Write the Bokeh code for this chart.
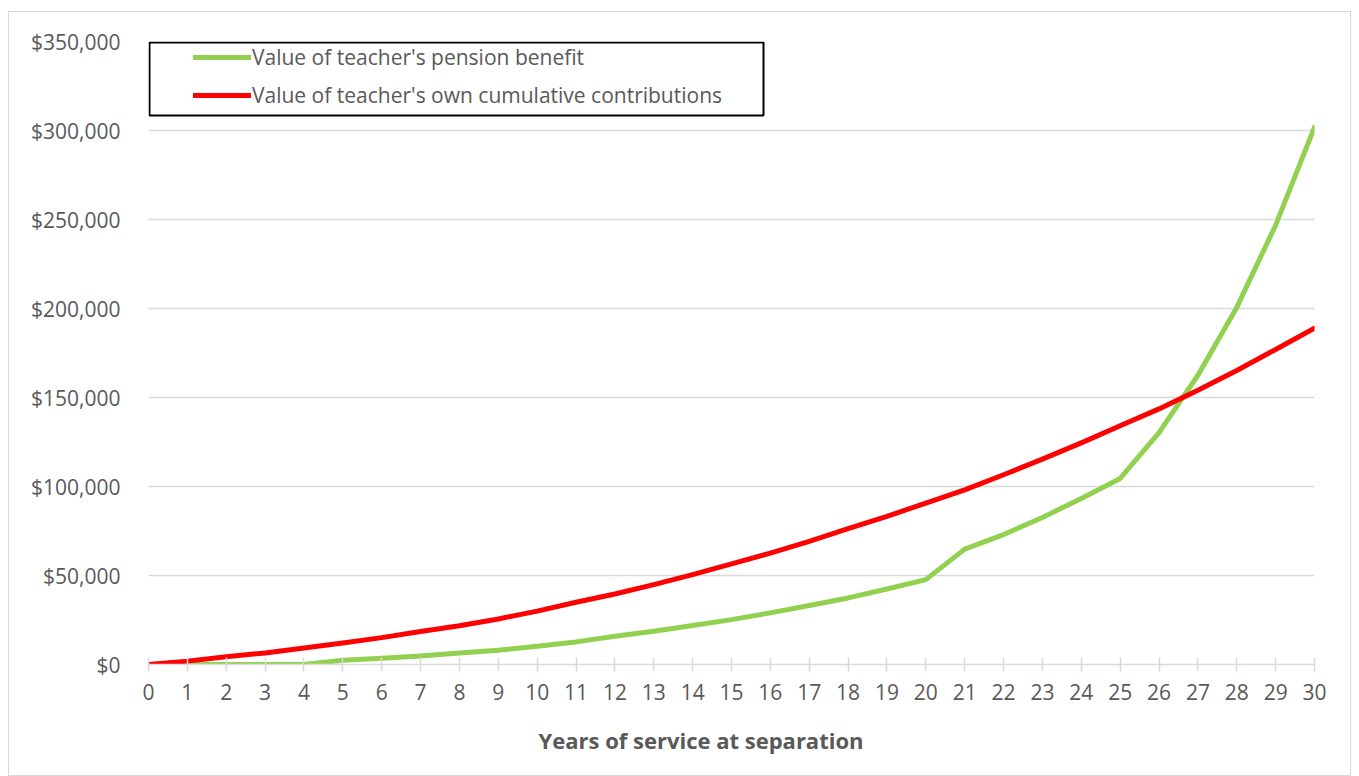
from bokeh.plotting import figure
from bokeh.models import (Legend, LegendItem, NumeralTickFormatter, FixedTicker,
                          BoxAnnotation, Range1d, Title)
from bokeh.embed import file_html
from bokeh.resources import INLINE

# ---- data ----
years = list(range(31))
pension_benefit = [0, 0, 0, 0, 0, 2400, 3500, 4800, 6500, 8000,
                   10300, 12700, 15900, 18700, 21900, 25200, 29000, 33100, 37400, 42400,
                   47700, 64800, 73000, 82600, 93300, 104500, 130300, 162500, 200600, 246800,
                   301900]
own_contributions = [0, 1900, 4300, 6500, 9300, 12100, 15100, 18500, 21800, 25600,
                     30000, 35000, 39600, 44900, 50500, 56500, 62600, 69200, 76300, 83200,
                     90700, 98100, 106600, 115400, 124500, 134100, 143600, 154100, 165200, 177000,
                     189000]
y_ticks = [0, 50000, 100000, 150000, 200000, 250000, 300000, 350000]
series_names = ["Value of teacher's pension benefit",
                "Value of teacher's own cumulative contributions"]
x_title = "Years of service at separation"

FONT = "Open Sans"
TXT = "#595959"
GRID = "#d9d9d9"

p = figure(width=1343, height=765, output_backend="svg", toolbar_location=None,
           x_range=Range1d(years[0], years[-1]), y_range=Range1d(y_ticks[0], y_ticks[-1]),
           min_border_left=139, min_border_right=38, min_border_top=29, min_border_bottom=113)
p.margin = (11, 0, 0, 8)
p.styles = {"border": "1px solid #d9d9d9"}
p.outline_line_color = None
p.background_fill_color = "white"
p.border_fill_color = "white"

r_green = p.line(years, pension_benefit, line_color="#92D050", line_width=5,
                 line_cap="round", line_join="round")
r_red = p.line(years, own_contributions, line_color="#FF0000", line_width=5,
               line_cap="round", line_join="round")

# grid
p.xgrid.visible = False
p.ygrid.grid_line_color = GRID
p.ygrid.grid_line_width = 1.5

# y axis
p.yaxis.ticker = FixedTicker(ticks=y_ticks)
p.yaxis.formatter = NumeralTickFormatter(format="$0,0")
p.yaxis.axis_line_color = None
p.yaxis.major_tick_line_color = None
p.yaxis.minor_tick_line_color = None
p.yaxis.major_label_standoff = 22
p.yaxis.major_label_text_font = FONT
p.yaxis.major_label_text_font_size = "21px"
p.yaxis.major_label_text_color = TXT

# x axis
p.xaxis.ticker = FixedTicker(ticks=years)
p.xaxis.axis_line_color = GRID
p.xaxis.axis_line_width = 1.5
p.xaxis.major_tick_line_color = GRID
p.xaxis.major_tick_line_width = 1.5
p.xaxis.major_tick_in = 7
p.xaxis.major_tick_out = 7
p.xaxis.minor_tick_line_color = None
p.xaxis.major_label_standoff = 12
p.xaxis.major_label_text_font = FONT
p.xaxis.major_label_text_font_size = "21px"
p.xaxis.major_label_text_color = TXT

# x-axis title (placed below the axis, slightly left of the frame centre as in the reference)
p.add_layout(Title(text=x_title, align="left", offset=390, standoff=41,
                   text_font=FONT, text_font_style="bold", text_font_size="22px",
                   text_color=TXT), "below")

# legend frame
box = BoxAnnotation(left=1, right=615, bottom=549, top=622,
                    left_units="screen", right_units="screen",
                    bottom_units="screen", top_units="screen",
                    fill_color=None, fill_alpha=0, line_color="black", line_alpha=1,
                    line_width=2)
p.add_layout(box)

legend = Legend(items=[LegendItem(label=series_names[0], renderers=[r_green]),
                       LegendItem(label=series_names[1], renderers=[r_red])],
                location=(45, 554), padding=5, spacing=8, margin=0,
                glyph_width=58, glyph_height=30, label_height=30, label_standoff=1,
                border_line_color=None, background_fill_alpha=0,
                label_text_font=FONT, label_text_font_size="21px",
                label_text_color=TXT)
p.add_layout(legend)

open("out.html", "w").write(file_html(p, INLINE))
